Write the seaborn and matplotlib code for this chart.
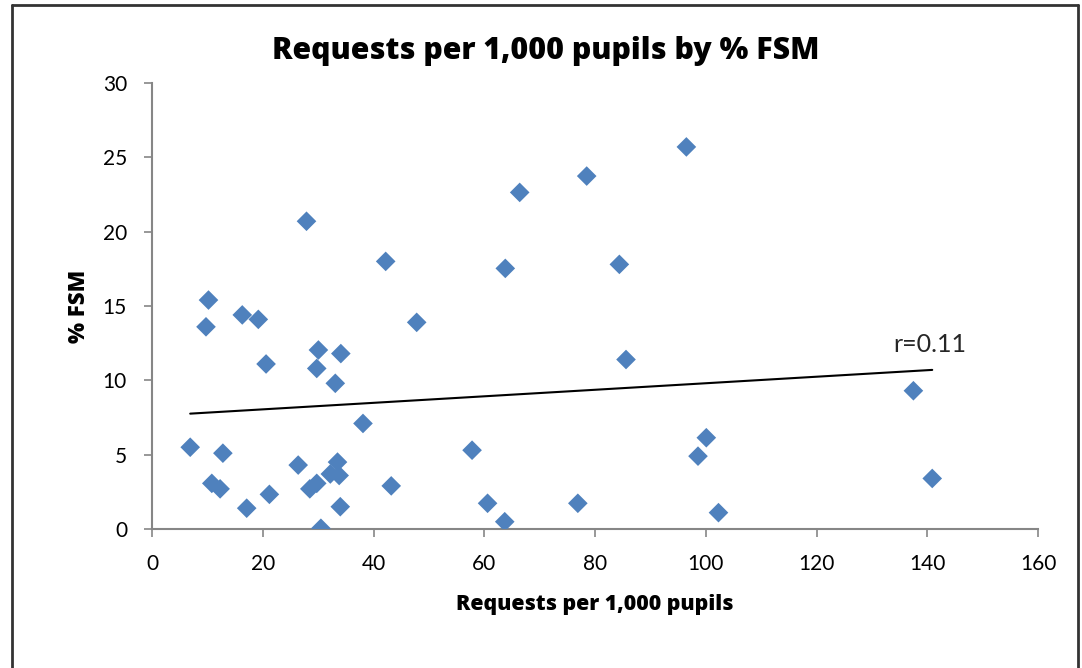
import matplotlib
matplotlib.use("Agg")
import matplotlib.pyplot as plt
import seaborn as sns
import pandas as pd
from matplotlib.lines import Line2D

requests_per_1000 = [6.9, 9.75, 10.2, 10.8, 12.3, 12.8, 16.3, 17.1, 19.2, 20.6,
                     21.2, 26.4, 27.9, 28.5, 29.75, 29.75, 30.05, 30.5, 32.2, 33.1,
                     33.5, 33.8, 34.0, 34.1, 38.1, 42.2, 43.2, 47.8, 57.8, 60.6,
                     63.7, 63.8, 66.4, 76.9, 78.5, 84.4, 85.6, 96.5, 98.6, 100.1,
                     102.3, 137.5, 140.9]
pct_fsm = [5.5, 13.6, 15.4, 3.07, 2.7, 5.1, 14.4, 1.4, 14.1, 11.1,
           2.33, 4.3, 20.7, 2.7, 3.07, 10.8, 12.04, 0.05, 3.7, 9.8,
           4.5, 3.6, 1.5, 11.8, 7.1, 18.0, 2.9, 13.9, 5.3, 1.73,
           0.49, 17.53, 22.64, 1.73, 23.74, 17.8, 11.4, 25.7, 4.9, 6.14,
           1.1, 9.3, 3.4]

title = "Requests per 1,000 pupils by % FSM"
x_label = "Requests per 1,000 pupils"
y_label = "% FSM"
r_label = "r=0.11"
x_ticks = [0, 20, 40, 60, 80, 100, 120, 140, 160]
y_ticks = [0, 5, 10, 15, 20, 25, 30]

df = pd.DataFrame({"req": requests_per_1000, "fsm": pct_fsm})

sns.set_style("white")
plt.rcParams["font.family"] = ["Lato", "DejaVu Sans"]
bold_family = ["Open Sans", "DejaVu Sans"]

fig = plt.figure(figsize=(10.82, 6.68), dpi=100)
ax = fig.add_axes([152 / 1082, 1 - 529 / 668, (1038 - 152) / 1082, (529 - 83) / 668])

sns.scatterplot(data=df, x="req", y="fsm", marker="D", s=100, color="#4F81BD",
                edgecolor="none", linewidth=0, ax=ax, zorder=3)
sns.regplot(data=df, x="req", y="fsm", scatter=False, ci=None, truncate=True,
            line_kws={"color": "black", "linewidth": 1.5, "zorder": 2}, ax=ax)

ax.set_xlim(0, 160)
ax.set_ylim(0, 30)
ax.set_xticks(x_ticks)
ax.set_yticks(y_ticks)
ax.set_xticklabels([str(t) for t in x_ticks])
ax.set_yticklabels([str(t) for t in y_ticks])

for side in ["top", "right"]:
    ax.spines[side].set_visible(False)
for side in ["left", "bottom"]:
    ax.spines[side].set_color("#868686")
    ax.spines[side].set_linewidth(1.5)
ax.tick_params(axis="both", direction="out", length=6, width=1.2, color="#868686",
               labelsize=15, pad=12, labelcolor="black", bottom=True, left=True)

ax.set_xlabel(x_label, fontsize=15.3, fontweight="heavy", family=bold_family, color="black")
ax.set_ylabel(y_label, fontsize=16, fontweight="heavy", family=bold_family, color="black")
ax.xaxis.set_label_coords(0.50, -0.145)
ax.yaxis.set_label_coords(-0.069, 0.5)

fig.text(546 / 1082, 1 - 51 / 668, title, ha="center", va="center", color="black",
         fontsize=21.8, fontweight="heavy", family=bold_family)
ax.text(140.5, 12.4, r_label, ha="center", va="center", fontsize=18)

# outer frame (open at bottom as in reference)
x0, x1, yt = 12 / 1082, 1078 / 1082, 1 - 5 / 668
for xs, ys in [([x0, x1], [yt, yt]), ([x0, x0], [yt, -0.1]), ([x1, x1], [yt, -0.1])]:
    fig.add_artist(Line2D(xs, ys, transform=fig.transFigure, color="#333333", linewidth=2))

fig.savefig("out.png", dpi=100)
